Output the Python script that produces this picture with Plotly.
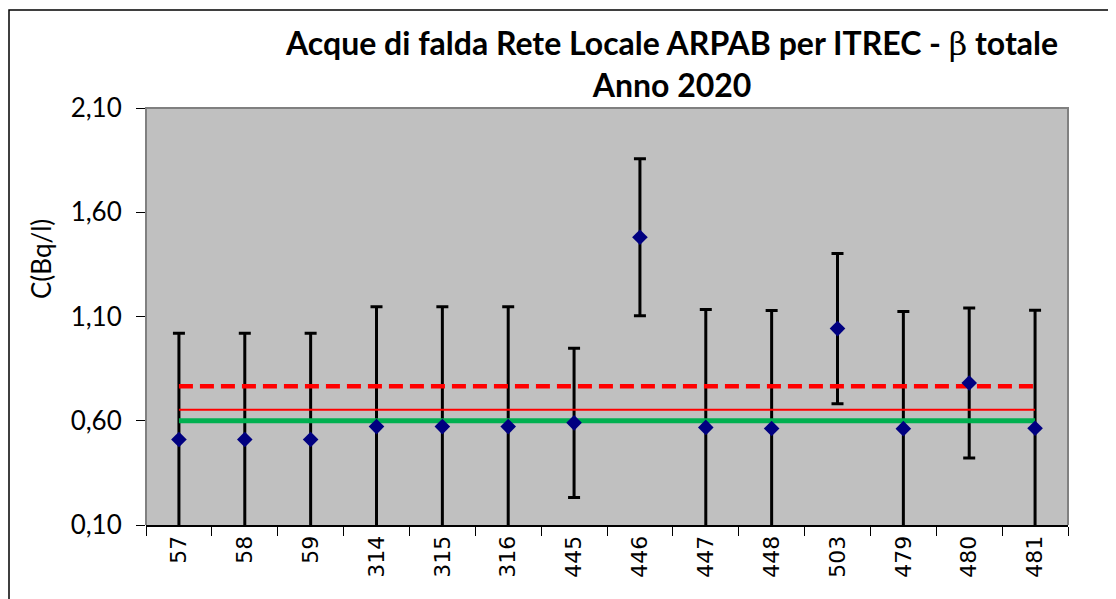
import plotly.graph_objects as go

# ---- data ----
categories = ["57", "58", "59", "314", "315", "316", "445", "446",
              "447", "448", "503", "479", "480", "481"]
values = [0.51, 0.51, 0.51, 0.572, 0.572, 0.572, 0.59, 1.48,
          0.568, 0.563, 1.042, 0.562, 0.781, 0.564]
errors = [0.51, 0.51, 0.51, 0.575, 0.575, 0.575, 0.358, 0.376,
          0.566, 0.566, 0.36, 0.562, 0.36, 0.566]
dashed_ref = 0.765
solid_ref = 0.653
green_ref = 0.60
y_ticks = [0.10, 0.60, 1.10, 1.60, 2.10]
y_tick_labels = ["0,10", "0,60", "1,10", "1,60", "2,10"]

# page body margin of 8px is compensated by shrinking the figure
OFF = 8
W, H = 1116 - OFF, 599 - OFF
L, R, T, B = 146 - OFF, 1068 - OFF, 108 - OFF, 525 - OFF


def px(x):
    return (x - OFF - L) / (R - L)


def py(y):
    return (B - (y - OFF)) / (B - T)


fig = go.Figure()

# error bars (drawn first, below reference lines)
fig.add_trace(go.Scatter(
    x=categories, y=values, mode="markers",
    marker=dict(size=1, opacity=0),
    error_y=dict(type="data", array=errors, color="black", thickness=3, width=6),
    showlegend=False, hoverinfo="skip"))

# reference lines
fig.add_trace(go.Scatter(
    x=categories, y=[dashed_ref] * len(categories), mode="lines",
    line=dict(color="#FF0000", width=4.5, dash="14px,7px"), showlegend=False))
fig.add_trace(go.Scatter(
    x=categories, y=[solid_ref] * len(categories), mode="lines",
    line=dict(color="#FF0000", width=2), showlegend=False))
fig.add_trace(go.Scatter(
    x=categories, y=[green_ref] * len(categories), mode="lines",
    line=dict(color="#00B050", width=5), showlegend=False))

# markers on top
fig.add_trace(go.Scatter(
    x=categories, y=values, mode="markers",
    marker=dict(symbol="diamond", size=12, color="#000080"),
    showlegend=False))

fig.update_layout(
    width=W, height=H,
    margin=dict(l=L, r=W - R, t=T, b=H - B, pad=0),
    paper_bgcolor="white",
    plot_bgcolor="#C0C0C0",
    showlegend=False,
    xaxis=dict(
        type="category", range=[-0.5, len(categories) - 0.5],
        tickson="boundaries", ticks="outside", ticklen=9, tickwidth=1,
        tickcolor="black", showline=True, linecolor="black", linewidth=2,
        showgrid=False, zeroline=False, tickangle=-90,
        tickfont=dict(family="DejaVu Sans", size=22, color="black"),
        fixedrange=True),
    yaxis=dict(
        range=[0.10, 2.10], tickvals=y_ticks, ticktext=y_tick_labels,
        ticks="outside", ticklen=9, tickwidth=1, tickcolor="black",
        showline=False, showgrid=False, zeroline=False,
        tickfont=dict(family="Lato", size=26, color="black"),
        ticklabelstandoff=9, fixedrange=True),
    shapes=[
        # plot area border (left, top, right)
        dict(type="path", xref="paper", yref="paper",
             path="M 0,0 L 0,1 L 1,1 L 1,0",
             line=dict(color="#808080", width=2), layer="above"),
        # outer chart border
        dict(type="path", xref="paper", yref="paper",
             path=f"M {px(9)},{py(620)} L {px(9)},{py(10)} L {px(1125)},{py(10)}",
             line=dict(color="#000000", width=1.5), layer="above"),
    ],
    annotations=[
        dict(text="Acque di falda Rete Locale ARPAB per ITREC - "
                  "<span style='font-family:DejaVu Serif;font-weight:normal'>β</span> totale<br>Anno 2020",
             xref="paper", yref="paper", x=px(671), y=py(63),
             xanchor="center", yanchor="middle", showarrow=False,
             font=dict(family="Lato", size=32, color="black", weight="bold")),
        dict(text="C(Bq/l)", xref="paper", yref="paper", x=px(41), y=py(259),
             xanchor="center", yanchor="middle", textangle=-90, showarrow=False,
             font=dict(family="Lato", size=26, color="black")),
    ],
)

fig.write_html("out.html")
